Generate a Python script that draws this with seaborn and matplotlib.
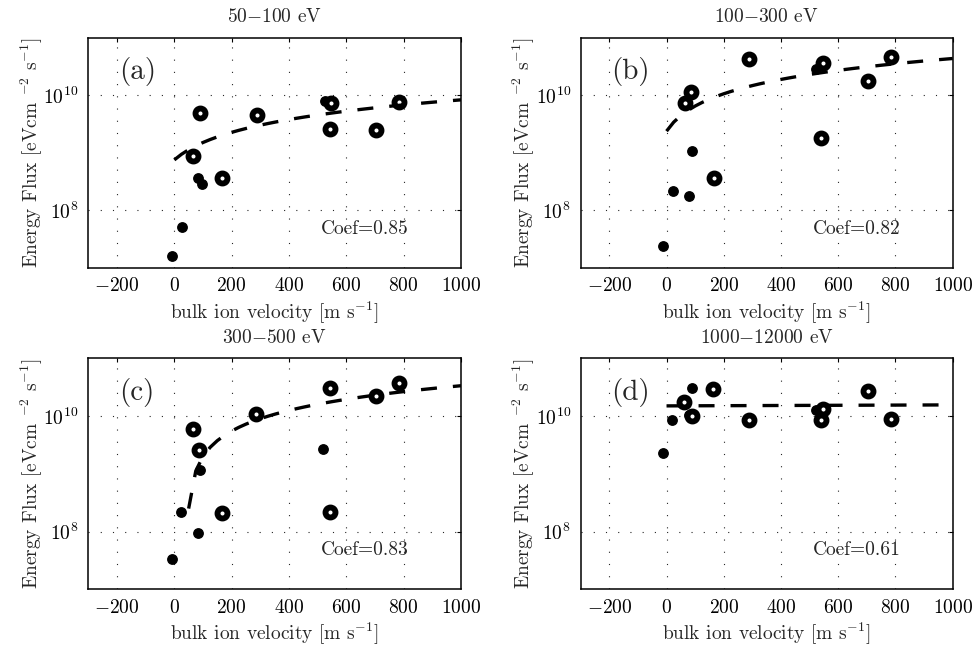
import numpy as np
import pandas as pd
import matplotlib
matplotlib.use("Agg")
import matplotlib.pyplot as plt
import seaborn as sns

# ---------------- data ----------------
titles = ["50$-$100 eV", "100$-$300 eV", "300$-$500 eV", "1000$-$12000 eV"]
panel_labels = ["(a)", "(b)", "(c)", "(d)"]
coefs = ["Coef=0.85", "Coef=0.82", "Coef=0.83", "Coef=0.61"]

# panel (a)
a_filled_x = [-8, 27, 83, 95, 527]
a_filled_y = [1.6e7, 5.2e7, 3.7e8, 2.9e8, 7.8e9]
a_open_x = [66, 90, 168, 287, 542, 545, 705, 785]
a_open_y = [8.8e8, 5.0e9, 3.6e8, 4.5e9, 2.6e9, 7.3e9, 2.5e9, 7.5e9]

# panel (b)
b_filled_x = [-14, 22, 78, 90, 522]
b_filled_y = [2.4e7, 2.2e8, 1.8e8, 1.06e9, 2.9e10]
b_open_x = [63, 86, 167, 287, 539, 545, 705, 783]
b_open_y = [7.4e9, 1.13e10, 3.65e8, 4.3e10, 1.8e9, 3.65e10, 1.8e10, 4.6e10]

# panel (c)
c_filled_x = [-9, 24, 82, 90, 520]
c_filled_y = [3.4e7, 2.2e8, 9.4e7, 1.18e9, 2.7e9]
c_open_x = [66, 87, 165, 285, 543, 543, 704, 785]
c_open_y = [6.0e9, 2.6e9, 2.1e8, 1.1e10, 3.1e10, 2.2e8, 2.2e10, 3.75e10]

# panel (d)
d_filled_x = [-13, 20, 80, 90, 524]
d_filled_y = [2.3e9, 8.6e9, 1.05e10, 3.07e10, 1.25e10]
d_open_x = [61, 88, 163, 287, 541, 545, 704, 783]
d_open_y = [1.75e10, 1.0e10, 2.95e10, 8.4e9, 8.4e9, 1.32e10, 2.7e10, 8.9e9]

# linear fits  y = intercept + slope * v
fit_intercept = [7.5e8, 2.37e9, -1.5e9, 1.5e10]
fit_slope = [7.55e6, 4.11e7, 3.5e7, 6e5]

x_ticks = [-200, 0, 200, 400, 600, 800, 1000]
x_tick_labels = ["$-200$", "$0$", "$200$", "$400$", "$600$", "$800$", "$1000$"]
y_ticks = [1e8, 1e10]
y_tick_labels = ["$10^{8}$", "$10^{10}$"]

# ---------------- style ----------------
sns.set_style("white")
plt.rcParams["font.family"] = ["cmr10", "DejaVu Serif"]
plt.rcParams["mathtext.fontset"] = "cm"
plt.rcParams["axes.formatter.use_mathtext"] = True

fig = plt.figure(figsize=(9.77, 6.49), dpi=100)
W, H = 977.0, 649.0
boxes = [  # left, top, right, bottom in pixels
    (88.3, 37.7, 461.0, 267.7),
    (580.7, 37.7, 952.7, 267.7),
    (88.3, 358.3, 461.0, 589.3),
    (580.7, 358.3, 952.7, 589.3),
]

panels = [
    (a_filled_x, a_filled_y, a_open_x, a_open_y),
    (b_filled_x, b_filled_y, b_open_x, b_open_y),
    (c_filled_x, c_filled_y, c_open_x, c_open_y),
    (d_filled_x, d_filled_y, d_open_x, d_open_y),
]

fit_v = np.arange(0, 1001, 25)

for i, (fx, fy, ox, oy) in enumerate(panels):
    l, t, r, b = boxes[i]
    ax = fig.add_axes([l / W, 1 - b / H, (r - l) / W, (b - t) / H])
    ax.set_yscale("log")
    ax.set_axisbelow(True)

    filled = pd.DataFrame({"v": fx, "flux": fy})
    opened = pd.DataFrame({"v": ox, "flux": oy})
    sns.scatterplot(data=filled, x="v", y="flux", ax=ax, marker="o", s=46,
                    color="black", edgecolor="black", linewidth=1.0, zorder=3)
    sns.scatterplot(data=opened, x="v", y="flux", ax=ax, marker="o", s=52,
                    color="white", edgecolor="black", linewidth=4.2, zorder=4)

    fit_y = fit_intercept[i] + fit_slope[i] * fit_v
    mask = fit_y > 0
    ax.plot(fit_v[mask], fit_y[mask], color="black", linewidth=2.4,
            linestyle=(0, (4.8, 4.8)), zorder=5, solid_capstyle="butt",
            dash_capstyle="butt")

    ax.set_xlim(-300, 1000)
    ax.set_ylim(1e7, 1e11)
    ax.set_xticks(x_ticks)
    ax.set_xticklabels(x_tick_labels)
    ax.set_yticks(y_ticks)
    ax.set_yticklabels(y_tick_labels)
    ax.yaxis.set_minor_locator(matplotlib.ticker.NullLocator())
    ax.tick_params(axis="both", direction="in", length=3, width=0.8,
                   labelsize=14, top=True, right=True, pad=7, colors="black")
    ax.grid(True, which="major", color="0.15", linestyle=(0, (1, 10)),
            linewidth=0.8)
    for s in ax.spines.values():
        s.set_color("black")
        s.set_linewidth(1.1)

    ax.set_title(titles[i], fontsize=14, pad=11)
    ax.set_xlabel("bulk ion velocity [m s$^{-1}$]", fontsize=14, labelpad=3)
    ax.set_ylabel("Energy Flux [eVcm $^{-2}$ s$^{-1}$]", fontsize=14,
                  labelpad=-1)
    ax.text(0.082, 0.852, panel_labels[i], transform=ax.transAxes,
            fontsize=21, ha="left", va="center")
    ax.text(0.625, 0.17, coefs[i], transform=ax.transAxes, fontsize=14,
            ha="left", va="center")

fig.savefig("out.png", dpi=100)
